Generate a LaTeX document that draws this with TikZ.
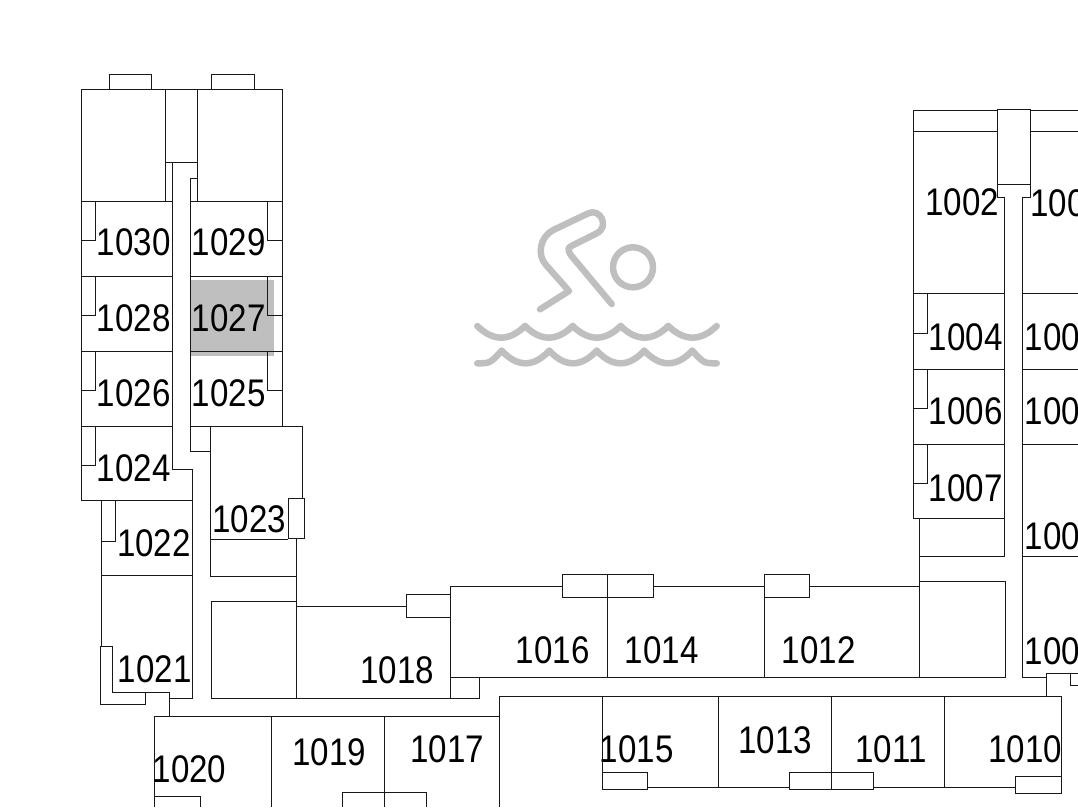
\documentclass[tikz,border=0pt]{standalone}
\usepackage{fontspec}
\setmainfont[FakeStretch=0.86]{Liberation Sans}
\tikzset{
    wallline/.style = {draw=black!90, line width=1pt, line join=miter},
    roomnode/.style = {draw=none, fill=none, rectangle, inner sep = 0em, font=\fontsize{38.5}{42}\selectfont},
    markfill/.style = {draw=none, fill=black!25},
    swimline/.style = {draw=black!25, line width=6.5pt, line cap=round, line join=round}
}
\begin{document}
\begin{tikzpicture}[x=1pt, y=-1pt]
\useasboundingbox (0,0) rectangle (1078,807);
\clip (0,0) rectangle (1078,807);
% marked room
\fill[markfill] (190.3,280) rectangle (274,355.7);
% left wing
\draw[wallline] (81,500) -- (81,89) -- (282.3,89) -- (282.3,426);
\draw[wallline] (165.7,89) -- (165.7,201) (197.7,89) -- (197.7,201);
\draw[wallline] (109,89) -- (109,74.3) -- (151.3,74.3) -- (151.3,89);
\draw[wallline] (211.7,89) -- (211.7,74.3) -- (254.3,74.3) -- (254.3,89);
\draw[wallline] (165.7,162.7) -- (197.7,162.7) -- (197.7,178.7) -- (190.3,178.7) -- (190.3,426);
\draw[wallline] (172.7,162.7) -- (172.7,469.3) -- (192.7,469.3) -- (192.7,698);
\foreach \y in {201,276,351,426} {
  \draw[wallline] (81,\y) -- (172.7,\y);
  \draw[wallline] (81,\y+39.3) -- (95.3,\y+39.3) -- (95.3,\y);
}
\foreach \y in {201,276,351} {
  \draw[wallline] (190.3,\y) -- (282.3,\y);
  \draw[wallline] (282.3,\y+39.3) -- (267.7,\y+39.3) -- (267.7,\y);
}
\draw[wallline] (81,500) -- (192.7,500) (101,575.3) -- (192.7,575.3);
\draw[wallline] (101,500) -- (101,646.7);
\draw[wallline] (101,541) -- (115.7,541) -- (115.7,500);
\draw[wallline] (100,646.7) -- (112.3,646.7) -- (112.3,692) -- (145,692) -- (145,704) -- (100,704) -- cycle;
\draw[wallline] (145,692) -- (169.3,692) -- (169.3,716) (169.3,698) -- (192.7,698);
% room 1023 and below
\draw[wallline] (190.3,426) -- (302.3,426) -- (302.3,498);
\draw[wallline] (190.3,426) -- (190.3,451.3) -- (210.7,451.3);
\draw[wallline] (210.7,426) -- (210.7,576) -- (296.7,576) -- (296.7,698);
\draw[wallline] (210.7,539) -- (288,539);
\draw[wallline] (288,498) rectangle (304.3,538.7);
\draw[wallline] (296.7,538.7) -- (296.7,576);
\draw[wallline] (211,601) rectangle (296.7,698);
\draw[wallline] (296.7,606) -- (406.7,606);
\draw[wallline] (406.7,594.3) rectangle (450.3,617.3);
\draw[wallline] (296.7,698) -- (479.7,698) -- (479.7,677.7);
% upper long block
\draw[wallline] (450.3,698) -- (450.3,586) -- (562.3,586);
\draw[wallline] (450.3,677.7) -- (1005,677.7);
\draw[wallline] (562.3,574.3) rectangle (607.7,597.3);
\draw[wallline] (607.7,574.3) rectangle (653.3,597.3);
\draw[wallline] (764.7,574.3) rectangle (809,597.3);
\draw[wallline] (653.3,586) -- (764.7,586) (809,586) -- (919,586);
\draw[wallline] (607.7,597.3) -- (607.7,677.7) (764.7,597.3) -- (764.7,677.7);
\draw[wallline] (919,518.7) -- (919,677.7);
\draw[wallline] (919,581) rectangle (1005,677.7);
\draw[wallline] (919,556) -- (1004.7,556);
% right wing
\draw[wallline] (1004.7,197.3) -- (1004.7,556);
\draw[wallline] (913,518.7) -- (913,110.7) -- (997.7,110.7) (913,131) -- (997.7,131);
\draw[wallline] (1030,110.7) -- (1078,110.7) (1030,131) -- (1078,131);
\draw[wallline] (997.7,109.3) rectangle (1030,184.7);
\draw[wallline] (997.7,184.7) -- (997.7,197.3) -- (1004.7,197.3);
\draw[wallline] (1030,184.7) -- (1030,197.3) -- (1022.7,197.3) -- (1022.7,677.7) -- (1046.7,677.7);
\draw[wallline] (1046.7,695.7) -- (1046.7,673.3) -- (1078,673.3);
\draw[wallline] (1078,685.3) -- (1070.7,685.3) -- (1070.7,673.3);
\foreach \y in {293.7,369.3,444.3} {
  \draw[wallline] (913,\y) -- (1004.7,\y);
  \draw[wallline] (1022.7,\y) -- (1078,\y);
  \draw[wallline] (913,\y+39.4) -- (927.7,\y+39.4) -- (927.7,\y);
}
\draw[wallline] (913,518.7) -- (1004.7,518.7) (1022.7,556) -- (1078,556);
% lower block
\draw[wallline] (154.7,807) -- (154.7,716) -- (499.3,716);
\draw[wallline] (271,716) -- (271,807) (384.3,716) -- (384.3,807);
\draw[wallline] (154.7,796.7) -- (200.3,796.7) -- (200.3,807);
\draw[wallline] (342.3,807) -- (342.3,792.7) -- (426.7,792.7) -- (426.7,807);
\draw[wallline] (499.3,807) -- (499.3,696) -- (1061,696) -- (1061,793);
\draw[wallline] (602.3,696) -- (602.3,789.7);
\draw[wallline] (602.3,772.7) rectangle (647,789.7);
\draw[wallline] (647,787.7) -- (789,787.7) (873.7,787.7) -- (1015.3,787.7);
\draw[wallline] (718,696) -- (718,787.7) (944.3,696) -- (944.3,787.7);
\draw[wallline] (831.3,696) -- (831.3,789.7);
\draw[wallline] (789,772.7) rectangle (873.7,789.7);
\draw[wallline] (1015.3,776.7) rectangle (1061,793);
% swimmer
\draw[swimline] (633,267.3) circle (20);
\draw[swimline] (540,309.3) -- (569,291) -- (546,265)
  .. controls (536.7,255) and (540,236.7) .. (553.3,230) -- (588.3,213.3)
  .. controls (600,207.5) and (610,226.7) .. (596.7,233.3) -- (573.3,245)
  .. controls (567.3,248.3) .. (570.7,255) -- (611.7,304);
\foreach \a/\b in {477.3/525,525/572.7,572.7/620.7,620.7/668.3,668.3/716.7}
  \draw[swimline] (\a,326) .. controls ({\a+(\b-\a)/3},341.5) and ({\b-(\b-\a)/3},341.5) .. (\b,326);
\foreach \a/\b in {501.7/549.3,549.3/596.7,596.7/644.3,644.3/692.3}
  \draw[swimline] (\a,350.7) .. controls ({\a+(\b-\a)/3},367.5) and ({\b-(\b-\a)/3},367.5) .. (\b,350.7);
\draw[swimline] (477.3,363.3) .. controls (490,363.3) .. (501.7,350.7);
\draw[swimline] (692.3,350.7) .. controls (704,363.3) .. (716.7,363.3);
% room numbers
\foreach \nr/\px/\py in {1030/133.7/242.5, 1029/228.7/242.5, 1028/133.7/318, 1027/228.7/318,
    1026/133.7/393.3, 1025/228.7/393.3, 1024/133.7/468, 1023/249.3/519, 1022/154/543,
    1021/154.7/669, 1020/189.5/769.7, 1019/329.3/752.5, 1018/397.3/670, 1017/447.3/749,
    1016/552.7/650, 1015/636.7/749.5, 1014/661.7/650, 1013/775/740.5, 1012/818.7/650,
    1011/891/749.5, 1010/1025.3/749.5, 1002/962.3/202.3, 1004/965.7/337, 1006/965.7/411.7,
    1007/965.7/488.3}
  \node[roomnode, name=room\nr] at (\px,\py) {\nr};
\node[roomnode, name=roomA, anchor=west] at (1030,203) {100};
\node[roomnode, name=roomB, anchor=west] at (1024.5,337) {100};
\node[roomnode, name=roomC, anchor=west] at (1024.5,411.7) {100};
\node[roomnode, name=roomD, anchor=west] at (1024.5,536.7) {100};
\node[roomnode, name=roomE, anchor=west] at (1024.5,651) {100};
\end{tikzpicture}
\end{document}
